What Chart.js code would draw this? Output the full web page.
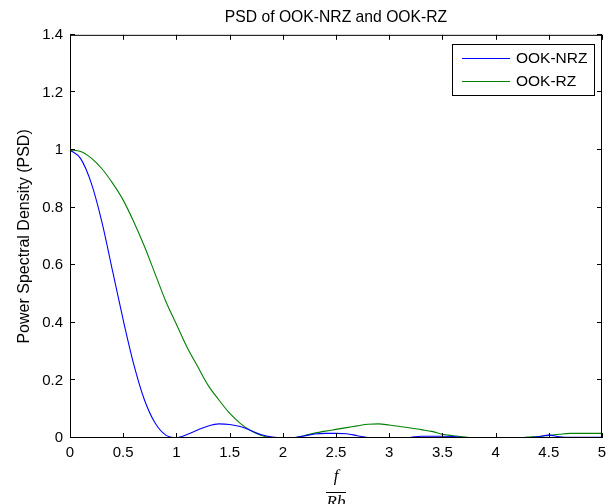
<!DOCTYPE html>
<html><head><meta charset="utf-8">
<script src="https://cdn.jsdelivr.net/npm/chart.js@4"></script>
<style>html,body{margin:0;padding:0;background:#fff;overflow:hidden}#wrap{width:613px;height:520px;position:relative}</style>
</head><body><div id="wrap"><canvas id="c"></canvas></div>
<script>
const chartTitle = 'PSD of OOK-NRZ and OOK-RZ';
const yAxisTitle = 'Power Spectral Density (PSD)';
const xAxisTitle = ['f', 'Rb'];
const seriesNames = ['OOK-NRZ', 'OOK-RZ'];
const seriesColors = ['#0000ff', '#008000'];

const freq = [0,0.1,0.2,0.3,0.4,0.5,0.6,0.7,0.8,0.9,1.0,1.1,1.2,1.3,1.4,1.5,1.6,1.7,1.8,1.9,2.0,
  2.1,2.2,2.3,2.4,2.5,2.6,2.7,2.8,2.9,3.0,3.1,3.2,3.3,3.4,3.5,3.6,3.7,3.8,3.9,4.0,
  4.1,4.2,4.3,4.4,4.5,4.6,4.7,4.8,4.9,5.0];
const ookNrz = [1.0,0.97,0.885,0.75,0.58,0.41,0.255,0.132,0.052,0.01,0.001,
  0.012,0.028,0.042,0.049,0.047,0.04,0.026,0.011,0.003,0.0005,
  0.001,0.007,0.014,0.016,0.016,0.015,0.008,0.002,0.001,0.001,
  0.001,0.002,0.006,0.006,0.006,0.005,0.001,0,0,0,
  0,0,0.001,0.004,0.01,0.004,0.002,0.002,0.002,0.002];
const ookRz = [1.0,0.995,0.972,0.935,0.885,0.826,0.75,0.665,0.57,0.475,0.395,
  0.315,0.248,0.182,0.132,0.086,0.051,0.025,0.009,0.001,0,
  0.001,0.008,0.017,0.024,0.03,0.036,0.042,0.048,0.049,0.045,
  0.04,0.035,0.029,0.023,0.013,0.008,0.004,0,0,0,
  0,0,0.003,0.005,0.009,0.013,0.016,0.016,0.016,0.016];

const xTickValues = [0,0.5,1,1.5,2,2.5,3,3.5,4,4.5,5];
const xTickLabels = ['0','0.5','1','1.5','2','2.5','3','3.5','4','4.5','5'];
const yTickValues = [0,0.2,0.4,0.6,0.8,1,1.2,1.4];
const yTickLabels = ['0','0.2','0.4','0.6','0.8','1','1.2','1.4'];

const SANS = '"Liberation Sans", Arial, sans-serif';

const framePlugin = {
  id: 'frame',
  afterDraw(chart) {
    const {ctx, chartArea: a, scales: {x, y}} = chart;
    ctx.save();
    ctx.strokeStyle = '#000';
    ctx.lineWidth = 1;
    ctx.strokeRect(a.left + 0.5, a.top + 0.5, a.right - a.left - 1, a.bottom - a.top - 1);
    const tl = 5;
    ctx.beginPath();
    xTickValues.forEach(v => {
      const px = Math.round(x.getPixelForValue(v)) + 0.5;
      ctx.moveTo(px, a.bottom); ctx.lineTo(px, a.bottom - tl);
      ctx.moveTo(px, a.top); ctx.lineTo(px, a.top + tl);
    });
    yTickValues.forEach(v => {
      const py = Math.round(y.getPixelForValue(v)) - 0.5;
      ctx.moveTo(a.left, py); ctx.lineTo(a.left + tl, py);
      ctx.moveTo(a.right, py); ctx.lineTo(a.right - tl, py);
    });
    ctx.stroke();
    // fraction bar of the x-axis label
    const cx = (a.left + a.right) / 2;
    ctx.beginPath();
    ctx.moveTo(cx - 10, x.bottom - 27.5);
    ctx.lineTo(cx + 10, x.bottom - 27.5);
    ctx.stroke();
    // legend box
    const w = 142, h = 51;
    const lx = a.right - 8 - w, ly = a.top + 9;
    ctx.fillStyle = '#fff';
    ctx.fillRect(lx, ly, w, h);
    ctx.strokeRect(Math.round(lx) + 0.5, Math.round(ly) + 0.5, w, h);
    ctx.font = '15.5px ' + SANS;
    ctx.textBaseline = 'middle';
    ctx.textAlign = 'left';
    chart.data.datasets.forEach((ds, i) => {
      const ry = Math.round(ly + 14 + i * 23) + 0.5;
      ctx.strokeStyle = ds.borderColor;
      ctx.beginPath();
      ctx.moveTo(lx + 10, ry); ctx.lineTo(lx + 58, ry);
      ctx.stroke();
      ctx.fillStyle = '#000';
      ctx.fillText(ds.label, lx + 64, ry);
    });
    ctx.restore();
  }
};

new Chart(document.getElementById('c'), {
  type: 'line',
  data: {
    datasets: [
      { label: seriesNames[0], data: freq.map((f, i) => ({x: f, y: ookNrz[i]})), borderColor: seriesColors[0], borderWidth: 1.1, pointRadius: 0, cubicInterpolationMode: 'monotone', fill: false },
      { label: seriesNames[1], data: freq.map((f, i) => ({x: f, y: ookRz[i]})), borderColor: seriesColors[1], borderWidth: 1.1, pointRadius: 0, cubicInterpolationMode: 'monotone', fill: false }
    ]
  },
  options: {
    responsive: true,
    maintainAspectRatio: false,
    animation: false,
    layout: { padding: { left: 0, right: 11, top: 0, bottom: 0 } },
    plugins: {
      legend: { display: false },
      tooltip: { enabled: false },
      title: { display: true, fullSize: false, text: chartTitle, color: '#000', font: { family: SANS, size: 15.7, weight: 'normal' }, padding: { top: 8, bottom: 8 } }
    },
    scales: {
      x: {
        type: 'linear', min: 0, max: 5,
        afterBuildTicks: s => { s.ticks = xTickValues.map(v => ({value: v})); },
        afterFit: s => { s.height = 82; },
        grid: { display: false, drawTicks: false },
        border: { display: false },
        ticks: { color: '#000', font: { family: SANS, size: 15 }, padding: 6, maxRotation: 0, autoSkip: false,
          callback: v => xTickLabels[xTickValues.indexOf(v)] },
        title: { display: true, text: xAxisTitle, color: '#000', font: { family: '"Liberation Serif", serif', size: 17, style: 'italic', lineHeight: 1.5 }, padding: { top: 0, bottom: 5 } }
      },
      y: {
        type: 'linear', min: 0, max: 1.4,
        afterBuildTicks: s => { s.ticks = yTickValues.map(v => ({value: v})); },
        afterFit: s => { s.width = 70; },
        grid: { display: false, drawTicks: false },
        border: { display: false },
        ticks: { color: '#000', font: { family: SANS, size: 15 }, padding: 7, autoSkip: false,
          callback: v => yTickLabels[yTickValues.indexOf(v)] },
        title: { display: true, text: yAxisTitle, color: '#000', font: { family: SANS, size: 16 }, padding: { top: 15, bottom: 0 } }
      }
    }
  },
  plugins: [framePlugin]
});
</script>
</body></html>
